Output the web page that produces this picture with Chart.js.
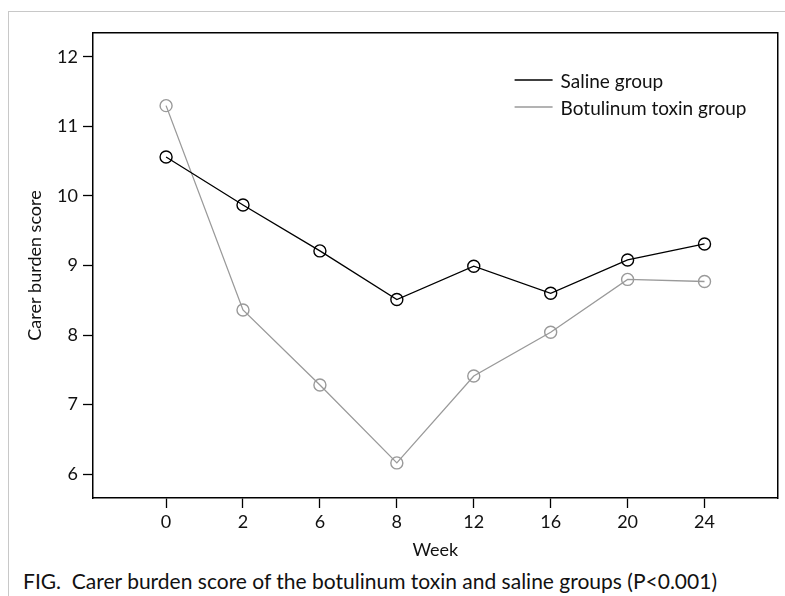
<!DOCTYPE html>
<html>
<head>
<meta charset="utf-8">
<script src="https://cdn.jsdelivr.net/npm/chart.js@4.4.1/dist/chart.umd.min.js"></script>
<style>
  body { margin: 0; background: #fff; overflow: hidden; }
  #frame { position: absolute; left: 8px; top: 11px; width: 820px; height: 620px; border: 1px solid #c8c8c8; }
  #wrap { position: absolute; left: 0; top: 0; width: 785px; height: 562px; }
  #caption { position: absolute; left: 23px; top: 568px; font-family: Lato, "Open Sans", sans-serif; font-size: 21px; color: #111; white-space: pre; }
</style>
</head>
<body>
<div id="frame"></div>
<div id="wrap"><canvas id="myChart"></canvas></div>
<div id="caption">FIG.  Carer burden score of the botulinum toxin and saline groups (P&lt;0.001)</div>
<script>
// data
var weeks = ["0", "2", "6", "8", "12", "16", "20", "24"];
var saline = [10.56, 9.87, 9.21, 8.51, 8.99, 8.6, 9.08, 9.31];
var botox = [11.3, 8.36, 7.28, 6.16, 7.41, 8.04, 8.8, 8.77];
var yTicks = [6, 7, 8, 9, 10, 11, 12];

var font = "Lato, 'Open Sans', sans-serif";

function pts(vals) {
  return vals.map(function (v, i) { return {x: i, y: v}; });
}

// legend drawn inside the plot box, top right
var boxLegend = {
  id: 'boxLegend',
  afterDraw: function (chart) {
    var ctx = chart.ctx, a = chart.chartArea;
    ctx.save();
    ctx.font = "19px " + font;
    ctx.textBaseline = "middle";
    chart.data.datasets.forEach(function (ds, i) {
      var y = a.top + 47 + i * 27;
      var x = a.right - 263;
      ctx.strokeStyle = ds.borderColor;
      ctx.lineWidth = 1.3;
      ctx.beginPath();
      ctx.moveTo(x, y);
      ctx.lineTo(x + 38, y);
      ctx.stroke();
      ctx.fillStyle = "#111";
      ctx.fillText(ds.label, x + 46, y + 2);
    });
    ctx.restore();
  }
};

var tickGrid = { display: true, drawOnChartArea: false, drawTicks: true, tickLength: 10, tickWidth: 1.3, tickColor: "#000" };

new Chart("myChart", {
  type: "line",
  data: {
    datasets: [{
      label: "Saline group",
      data: pts(saline),
      borderColor: "#000",
      borderWidth: 1.3,
      pointRadius: 6,
      pointBorderWidth: 1.4,
      pointBorderColor: "#000",
      pointBackgroundColor: "rgba(255,255,255,0)",
      tension: 0
    }, {
      label: "Botulinum toxin group",
      data: pts(botox),
      borderColor: "#9a9a9a",
      borderWidth: 1.3,
      pointRadius: 6,
      pointBorderWidth: 1.4,
      pointBorderColor: "#9a9a9a",
      pointBackgroundColor: "rgba(255,255,255,0)",
      tension: 0
    }]
  },
  options: {
    responsive: true,
    maintainAspectRatio: false,
    animation: false,
    layout: { padding: { top: 33, right: 7, left: 0, bottom: 0 } },
    plugins: { legend: { display: false }, tooltip: { enabled: false } },
    scales: {
      x: {
        type: "linear",
        min: -0.95,
        max: 7.95,
        afterBuildTicks: function (s) { s.ticks = weeks.map(function (w, i) { return {value: i}; }); },
        afterFit: function (s) { s.height = 64; },
        grid: tickGrid,
        border: { display: true, color: "#000", width: 1.5 },
        ticks: {
          color: "#111",
          font: { family: font, size: 18 },
          padding: 3,
          maxRotation: 0,
          callback: function (v) { return weeks[v]; }
        },
        title: { display: true, text: "Week", color: "#111", font: { family: font, size: 18 }, padding: { top: 0, bottom: 1 } }
      },
      y: {
        min: 5.655,
        max: 12.345,
        afterBuildTicks: function (s) { s.ticks = yTicks.map(function (v) { return {value: v}; }); },
        afterFit: function (s) { s.width = 93; },
        grid: tickGrid,
        border: { display: true, color: "#000", width: 1.5 },
        ticks: { color: "#111", font: { family: font, size: 18 }, padding: 5 },
        title: { display: true, text: "Carer burden score", color: "#111", font: { family: font, size: 18 }, padding: { top: 24, bottom: 0 } }
      },
      x2: { position: "top", type: "linear", min: 0, max: 1, afterFit: function (s) { s.height = 0; },
        grid: { display: false }, ticks: { display: false }, border: { display: true, color: "#000", width: 1.5 } },
      y2: { position: "right", min: 0, max: 1, afterFit: function (s) { s.width = 0; },
        grid: { display: false }, ticks: { display: false }, border: { display: true, color: "#000", width: 1.5 } }
    }
  },
  plugins: [boxLegend]
});
</script>
</body>
</html>
